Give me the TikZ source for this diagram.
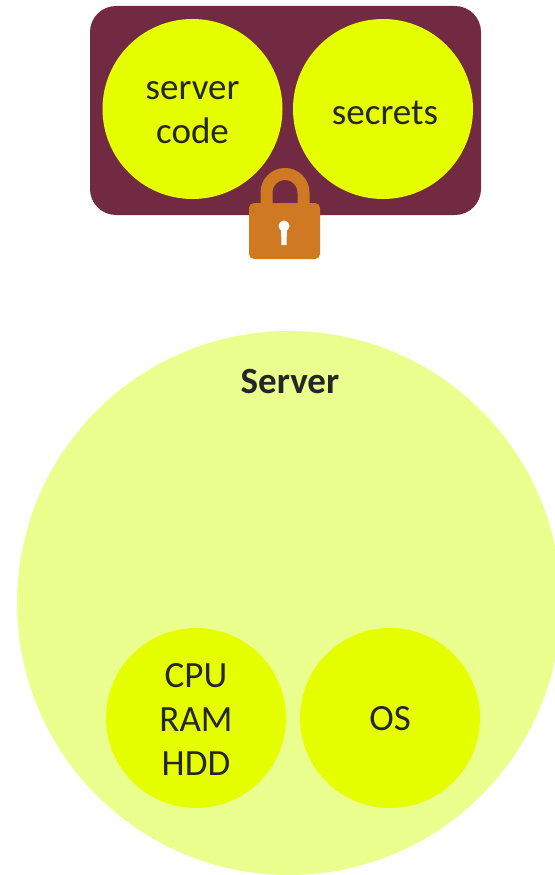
\documentclass[tikz,border=0pt]{standalone}
\usepackage{fontspec}
\setmainfont{Carlito}
\definecolor{innerY}{HTML}{E6FF00}
\definecolor{outerY}{HTML}{EBFF8F}
\definecolor{plum}{HTML}{722A42}
\definecolor{lockO}{HTML}{CF7A22}
\tikzset{
 px/.style={x=1pt,y=-1pt},
 inner/.style={circle,fill=innerY,minimum size=#1,inner sep=0pt},
 caption/.style={align=center,inner sep=0pt,font=\fontsize{37}{44}\selectfont,text=black!85},
}
\begin{document}
\begin{tikzpicture}[px]
\useasboundingbox (0,0) rectangle (554,875);
\fill[white] (0,0) rectangle (554,875);
\node[fill=plum,rounded corners=26pt,minimum width=391pt,minimum height=209pt,inner sep=0pt] (box) at (285.5,110.5) {};
\node[inner=180pt] (code) at (192.5,109) {};
\node[caption] (codeT) at (192.5,113) {server\\code};
\node[inner=180pt] (secrets) at (383,109) {};
\node[caption] (secretsT) at (385,113) {secrets};
\draw[line width=12pt,lockO] (266.5,205) -- (266.5,192.5) arc[start angle=180,end angle=0,radius=18.5pt] -- (303.5,205);
\node[fill=lockO,rounded corners=5pt,minimum width=71pt,minimum height=56pt,inner sep=0pt] (lock) at (284.5,231) {};
\fill[white] (284,226) circle (5.5pt);
\fill[white] (281,228) -- (287,228) -- (286.5,245) -- (281.5,245) -- cycle;
\node[circle,fill=outerY,minimum size=544pt,inner sep=0pt] (server) at (289,603) {};
\node[font=\fontsize{37}{40}\selectfont\bfseries,text=black!85] (title) at (290,381) {Server};
\node[inner=180pt] (hw) at (196,718) {};
\node[caption] (hwT) at (196,719) {CPU\\RAM\\HDD};
\node[inner=180pt] (os) at (390,718) {};
\node[caption] (osT) at (390,719) {OS};
\end{tikzpicture}
\end{document}
